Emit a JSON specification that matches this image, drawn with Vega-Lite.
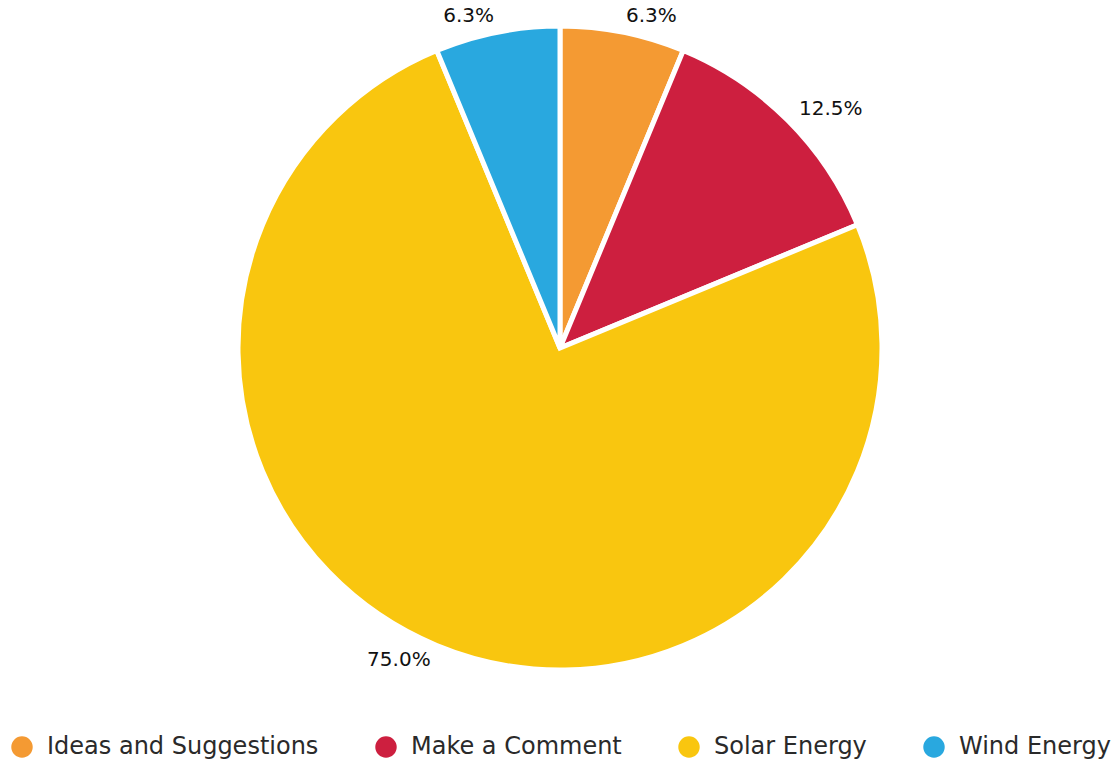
{
  "$schema": "https://vega.github.io/schema/vega-lite/v6.json",
  "width": 1120,
  "height": 696,
  "autosize": {"type": "none"},
  "padding": {"left": 0, "right": 0, "top": 0, "bottom": 69},
  "background": "white",
  "view": {"stroke": null},
  "data": {
    "values": [
      {"category": "Ideas and Suggestions", "share": 0.0625},
      {"category": "Make a Comment", "share": 0.125},
      {"category": "Solar Energy", "share": 0.75},
      {"category": "Wind Energy", "share": 0.0625}
    ]
  },
  "encoding": {
    "theta": {"field": "share", "type": "quantitative", "stack": true},
    "order": {"field": "category", "type": "nominal", "sort": "ascending"}
  },
  "layer": [
    {
      "mark": {"type": "arc", "outerRadius": 322, "stroke": "white", "strokeWidth": 5},
      "encoding": {
        "color": {
          "field": "category",
          "type": "nominal",
          "scale": {
            "domain": ["Ideas and Suggestions", "Make a Comment", "Solar Energy", "Wind Energy"],
            "range": ["#F49A33", "#CD1F3F", "#F9C60F", "#29A8DF"]
          },
          "legend": {
            "orient": "bottom",
            "direction": "horizontal",
            "title": null,
            "symbolType": "circle",
            "symbolSize": 460,
            "symbolStrokeWidth": 0,
            "symbolOpacity": 1,
            "labelFont": "DejaVu Sans",
            "labelFontSize": 24,
            "labelColor": "#2a2a2a",
            "labelLimit": 500,
            "labelOffset": 13,
            "columnPadding": 55,
            "padding": 10,
            "offset": 29
          }
        }
      }
    },
    {
      "mark": {
        "type": "text",
        "radius": 338,
        "font": "DejaVu Sans",
        "fontSize": 20,
        "fill": "#111111",
        "baseline": "middle",
        "align": {"expr": "datum.category === 'Solar Energy' || datum.category === 'Wind Energy' ? 'right' : 'left'"}
      },
      "encoding": {
        "detail": {"field": "category", "type": "nominal"},
        "text": {"field": "share", "type": "quantitative", "format": ".1%"}
      }
    }
  ]
}
